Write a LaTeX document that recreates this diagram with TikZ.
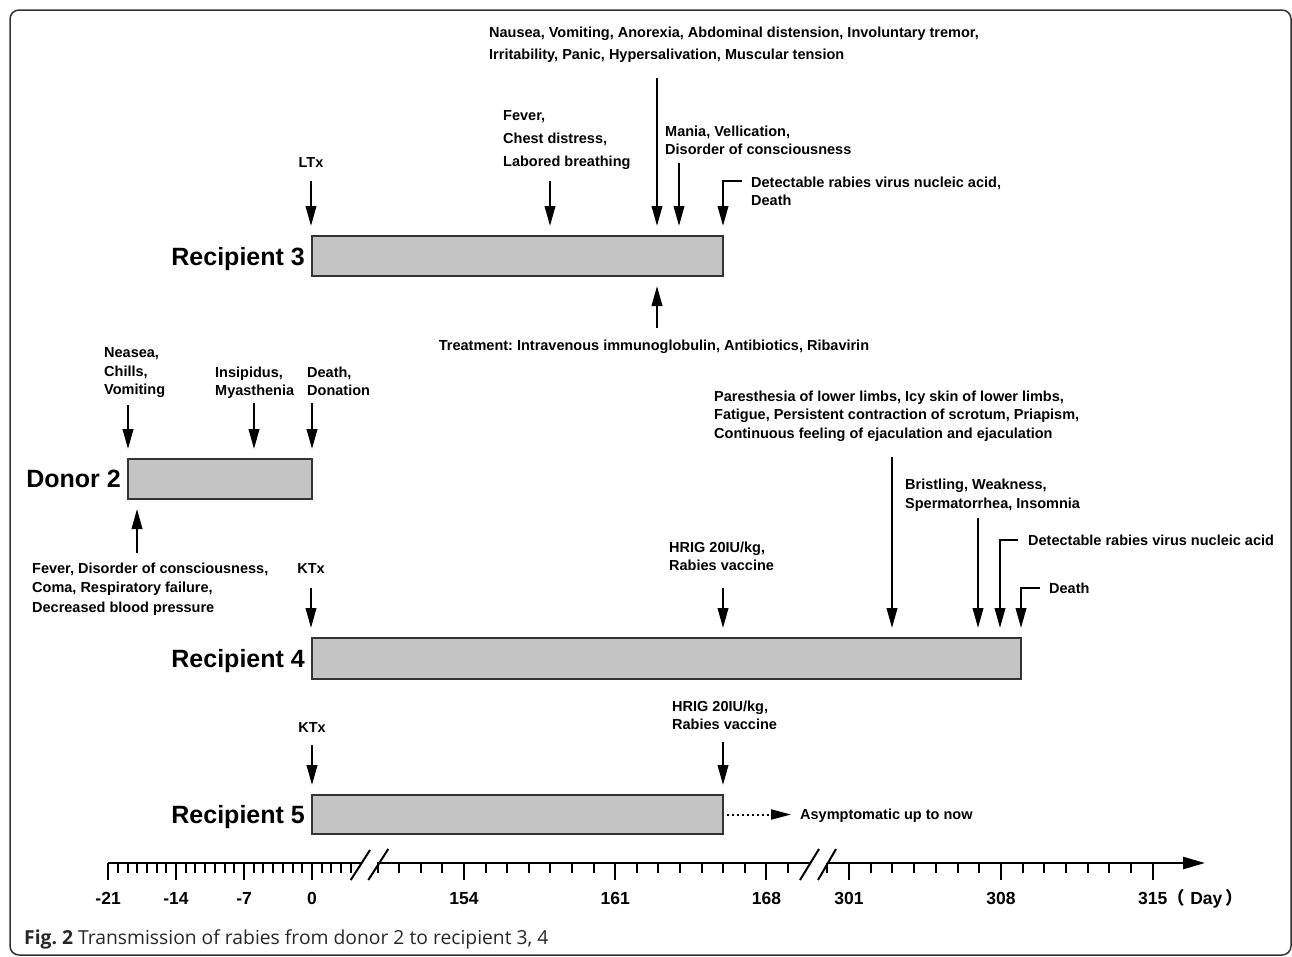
\documentclass[tikz,border=0pt]{standalone}
\usepackage{fontspec}
\setmainfont{Liberation Sans}
\newfontfamily\capfont{Open Sans}
\newfontfamily\cjk{Noto Sans CJK SC}
\usetikzlibrary{arrows.meta,positioning}
\definecolor{barfill}{HTML}{C4C4C4}
\definecolor{edge}{HTML}{333333}
\frenchspacing

\tikzset{
  bar/.style={draw=edge, fill=barfill, line width=1.2pt, inner sep=0pt, outer sep=0pt, anchor=north west},
  who/.style={font=\fontsize{25}{30}\selectfont\bfseries, text depth=0pt, anchor=east, inner sep=0pt},
  lbl/.style={font=\fontsize{14.5}{18.5}\selectfont\bfseries, align=left, inner sep=0pt, anchor=north west},
  onelbl/.style={font=\fontsize{14.5}{18.5}\selectfont\bfseries, inner sep=0pt, anchor=base},
  evt/.style={-{Triangle[length=20pt,width=10.5pt]}, line width=2.2pt, shorten >=10pt},
  daytick/.style={line width=2pt},
  daylbl/.style={font=\fontsize{17.5}{20}\selectfont\bfseries, inner sep=0pt, anchor=base},
  slash/.style={line width=2pt},
}

\begin{document}
\begin{tikzpicture}[x=1pt,y=-1pt]
  \useasboundingbox (0,0) rectangle (1292,956);
  \draw[line width=1.5pt, edge, rounded corners=9pt] (10,10) rectangle (1291,955);

  % bars
  \node[bar, minimum width=411pt, minimum height=40pt] (r3) at (312,236) {};
  \node[bar, minimum width=184pt, minimum height=40pt] (d2) at (128,459) {};
  \node[bar, minimum width=709pt, minimum height=41pt] (r4) at (312,638) {};
  \node[bar, minimum width=411pt, minimum height=39pt] (r5) at (312,795) {};
  \node[who, left=7pt of r3] (r3name) {Recipient 3};
  \node[who, left=7pt of d2] (d2name) {Donor 2};
  \node[who, left=7pt of r4] (r4name) {Recipient 4};
  \node[who, left=7pt of r5] (r5name) {Recipient 5};

  % recipient 3
  \node[onelbl] (ltx) at (311,167) {LTx};
  \node[lbl] (r3fev) at (503,110.5) {Fever,\\[4.5pt] Chest distress,\\[4.5pt] Labored breathing};
  \node[lbl] (r3nau) at (489,26.5) {Nausea, Vomiting, Anorexia, Abdominal distension, Involuntary tremor,\\[3.5pt]
    Irritability, Panic, Hypersalivation, Muscular tension};
  \node[lbl] (r3man) at (665,125.5) {Mania, Vellication,\\ Disorder of consciousness};
  \node[lbl] (r3det) at (751,176.5) {Detectable rabies virus nucleic acid,\\ Death};
  \node[onelbl] (r3trt) at (654,350) {Treatment: Intravenous immunoglobulin, Antibiotics, Ribavirin};
  \coordinate (a3ltx) at (311,181);
  \coordinate (a3fev) at (550,181);
  \coordinate (a3nau) at (657,78);
  \coordinate (a3man) at (679,163);
  \coordinate (a3det) at (742,181);
  \coordinate (a3trt) at (657,328);
  \draw[evt] (a3ltx) -- (a3ltx |- r3.north);
  \draw[evt] (a3fev) -- (a3fev |- r3.north);
  \draw[evt] (a3nau) -- (a3nau |- r3.north);
  \draw[evt] (a3man) -- (a3man |- r3.north);
  \draw[evt] (a3det) -| (r3.north east);
  \draw[evt] (a3trt) -- (a3trt |- r3.south);

  % donor 2
  \node[lbl] (d2nea) at (104,347.5) {Neasea,\\ Chills,\\ Vomiting};
  \node[lbl] (d2ins) at (215,366.5) {Insipidus,\\ Myasthenia};
  \node[lbl] (d2dth) at (307,366.5) {Death,\\ Donation};
  \node[lbl] (d2fev) at (32,562.5) {Fever, Disorder of consciousness,\\[1pt] Coma, Respiratory failure,\\[1pt] Decreased blood pressure};
  \coordinate (a2nea) at (128,405);
  \coordinate (a2ins) at (254,403);
  \coordinate (a2dth) at (312,403);
  \coordinate (a2fev) at (137,553);
  \draw[evt] (a2nea) -- (a2nea |- d2.north);
  \draw[evt] (a2ins) -- (a2ins |- d2.north);
  \draw[evt] (a2dth) -- (a2dth |- d2.north);
  \draw[evt] (a2fev) -- (a2fev |- d2.south);

  % recipient 4
  \node[onelbl] (ktx4) at (311,573) {KTx};
  \node[lbl] (r4hrig) at (669,541.5) {HRIG 20IU/kg,\\ Rabies vaccine};
  \node[lbl] (r4par) at (714,390.5) {Paresthesia of lower limbs, Icy skin of lower limbs,\\
    Fatigue, Persistent contraction of scrotum, Priapism,\\ Continuous feeling of ejaculation and ejaculation};
  \node[lbl] (r4bri) at (905,478.5) {Bristling, Weakness,\\[0.5pt] Spermatorrhea, Insomnia};
  \node[onelbl, anchor=base west] (r4det) at (1028,545) {Detectable rabies virus nucleic acid};
  \node[onelbl, anchor=base west] (r4dth) at (1049,593) {Death};
  \coordinate (a4ktx) at (311,588);
  \coordinate (a4hrig) at (723,588);
  \coordinate (a4par) at (892,457);
  \coordinate (a4bri) at (978,518);
  \coordinate (a4det) at (1018,540);
  \coordinate (a4detx) at (1000,620);
  \coordinate (a4dth) at (1040,588);
  \draw[evt] (a4ktx) -- (a4ktx |- r4.north);
  \draw[evt] (a4hrig) -- (a4hrig |- r4.north);
  \draw[evt] (a4par) -- (a4par |- r4.north);
  \draw[evt] (a4bri) -- (a4bri |- r4.north);
  \draw[evt] (a4det) -| (a4detx |- r4.north);
  \draw[evt] (a4dth) -| (r4.north east);

  % recipient 5
  \node[onelbl] (ktx5) at (312,732) {KTx};
  \node[lbl] (r5hrig) at (672,700.5) {HRIG 20IU/kg,\\ Rabies vaccine};
  \node[onelbl, anchor=base west] (r5asy) at (800,819.5) {Asymptomatic up to now};
  \coordinate (a5ktx) at (312,745);
  \coordinate (a5hrig) at (723,742);
  \coordinate (a5asy) at (791,814.5);
  \draw[evt] (a5ktx) -- (a5ktx |- r5.north);
  \draw[evt] (a5hrig) -- (a5hrig |- r5.north);
  \draw[line width=2pt, dash pattern=on 2pt off 3pt, -{Triangle[length=20pt,width=10pt]}, shorten <=4pt] (r5.east) -- (a5asy);

  % day axis
  \draw[line width=2.5pt] (108,863) -- (361,863);
  \draw[line width=2.5pt] (377,863) -- (810,863);
  \draw[line width=2.5pt, -{Triangle[length=22pt,width=12pt]}] (827,863) -- (1205,863);
  \foreach \d in {-21,...,4}
    \draw[daytick] ({312+9.71*\d},863) -- ++(0,10);
  \foreach \d in {150,...,169}
    \draw[daytick] ({464+21.6*(\d-154)},863) -- ++(0,10);
  \foreach \d in {300,...,315}
    \draw[daytick] ({849+21.7*(\d-301)},863) -- ++(0,10);
  \foreach \d in {-21,-14,-7,0} {
    \draw[daytick] ({312+9.71*\d},863) -- ++(0,17);
    \node[daylbl] (day\d) at ({312+9.71*\d},904) {\d};
  }
  \foreach \d in {154,161,168} {
    \draw[daytick] ({464+21.6*(\d-154)},863) -- ++(0,17);
    \node[daylbl] (day\d) at ({464+21.6*(\d-154)},904) {\d};
  }
  \foreach \d in {301,308,315} {
    \draw[daytick] ({849+21.7*(\d-301)},863) -- ++(0,17);
    \node[daylbl] (day\d) at ({849+21.7*(\d-301)},904) {\d};
  }
  \node[daylbl, anchor=base west] (unit) at (day315.base east)
    {{\cjk （}\hspace{5pt}Day\hspace{3pt}{\cjk ）}};
  \draw[slash] (350.7,880) -- (370,850);
  \draw[slash] (368.3,880) -- (388.3,849);
  \draw[slash] (800,880) -- (819,849);
  \draw[slash] (818,880) -- (836,849);

  % caption
  \node[anchor=base west, inner sep=0pt, text=black!85, font=\capfont\fontsize{19.3}{23}\selectfont] (cap) at (24,944)
    {\textbf{Fig. 2} Transmission of rabies from donor 2 to recipient 3, 4};
\end{tikzpicture}
\end{document}
